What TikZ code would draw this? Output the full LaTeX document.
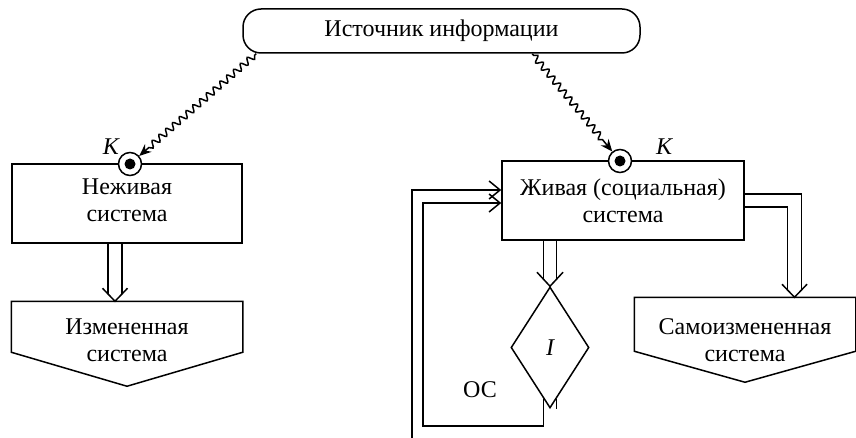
\documentclass[tikz,border=0pt]{standalone}
\usepackage{fontspec}
\setmainfont{Liberation Serif}
\usetikzlibrary{shapes.geometric,decorations.pathmorphing,arrows.meta,calc}
\begin{document}
\begin{tikzpicture}[x=1pt,y=-1pt,line width=1.5pt,
  txt/.style={font=\fontsize{24}{27}\selectfont, align=center},
  box/.style={txt, draw, rectangle, inner sep=0pt},
  plain/.style={txt, inner sep=0pt},
  conn/.style={draw, circle, minimum size=23pt, inner sep=0pt, fill=white},
  wave/.style={decorate, decoration={snake, segment length=9pt, amplitude=3.2pt, pre length=2pt, post length=11pt}, -{Stealth[length=12pt,width=10pt]}},
  fb/.style={-{Straight Barb[length=11pt,width=18pt]}},
  lbl/.style={font=\fontsize{24}{27}\selectfont\itshape, inner sep=0pt}]
\useasboundingbox (0,0) rectangle (856,438);
% source
\node[box, rounded corners=18pt, minimum width=397pt, minimum height=44pt] (src) at (441.5,31) {Источник информации};
% left branch
\node[box, minimum width=230pt, minimum height=79pt, text depth=6pt] (lb) at (127,203.5) {Неживая\\система};
\node[conn] (cl) at (130,164) {};
\fill (cl.center) circle (5.5pt);
\node[lbl] (kl) at (111,147) {K};
\node[plain, minimum width=230pt, minimum height=76pt] (lp) at (127,340) {Измененная\\система};
\draw (lp.north west) -- (lp.north east) -- ($(lp.north east)+(0,51)$) -- ($(lp.north)+(0,85)$) -- ($(lp.north west)+(0,51)$) -- cycle;
% right branch
\node[box, minimum width=242pt, minimum height=79pt] (rb) at (623,200.5) {Живая (социальная)\\система};
\node[conn] (cr) at (620,161) {};
\fill (cr.center) circle (5.5pt);
\node[lbl] (kr) at (664,147) {K};
\node[plain, minimum width=220pt, minimum height=84pt] (rp) at (745,340) {Самоизмененная\\система};
\draw (rp.north west) -- (rp.north east) -- ($(rp.north east)+(0,54)$) -- ($(rp.north)+(0,85)$) -- ($(rp.north west)+(0,54)$) -- cycle;
\node[diamond, draw, fill=white, minimum width=78pt, minimum height=121pt, shape aspect=0.64, inner sep=0pt] (d) at (550,347.5) {};
\node[lbl] (iv) at (d.center) {I};
\node[plain] (oc) at (480,390) {ОС};
% wavy arrows
\draw[wave] ($(src.south west)+(14,0)$) -- (cl);
\draw[wave] ($(src.south west)+(290,0)$) -- (cr);
% left double arrow
\coordinate (la1) at ($(lb.south)+(-12,0)$);
\coordinate (la2) at (la1 |- lp.north);
\draw ($(la1)+(-7,0)$) -- ($(la2)+(-7,-7.3)$);
\draw ($(la1)+(7,0)$) -- ($(la2)+(7,-7.3)$);
\draw ($(la2)+(-12.5,-13)$) -- (la2) -- ($(la2)+(12.5,-13)$);
% middle double arrow
\coordinate (ma1) at (d.north |- rb.south);
\coordinate (ma2) at (d.north);
\draw ($(ma1)+(-6.5,0)$) -- ($(ma2)+(-6.5,-6.8)$);
\draw ($(ma1)+(6.5,0)$) -- ($(ma2)+(6.5,-6.8)$);
\draw ($(ma2)+(-13,-14)$) -- (ma2) -- ($(ma2)+(13,-14)$);
% right double arrow
\coordinate (ra2) at (794.5,0 |- rp.north);
\draw ($(rb.east)+(0,-6.5)$) -- ($(ra2 |- rb.east)+(7,-6.5)$) -- ($(ra2)+(7,-7.3)$);
\draw ($(rb.east)+(0,6.5)$) -- ($(ra2 |- rb.east)+(-7,6.5)$) -- ($(ra2)+(-7,-7.3)$);
\draw ($(ra2)+(-12.5,-13)$) -- (ra2) -- ($(ra2)+(12.5,-13)$);
% feedback loops
\coordinate (fbi) at (423,426);
\coordinate (fbo) at (412,438);
\draw[fb] ($(d.south)+(-6.5,-10)$) |- (fbi) |- ($(rb.west)+(0,2.5)$);
\draw ($(d.south)+(6.5,-10)$) -- ($(d.south)+(6.5,0)$ |- fbo);
\draw[fb] (fbo) |- ($(rb.west)+(0,-10.5)$);
\end{tikzpicture}
\end{document}
